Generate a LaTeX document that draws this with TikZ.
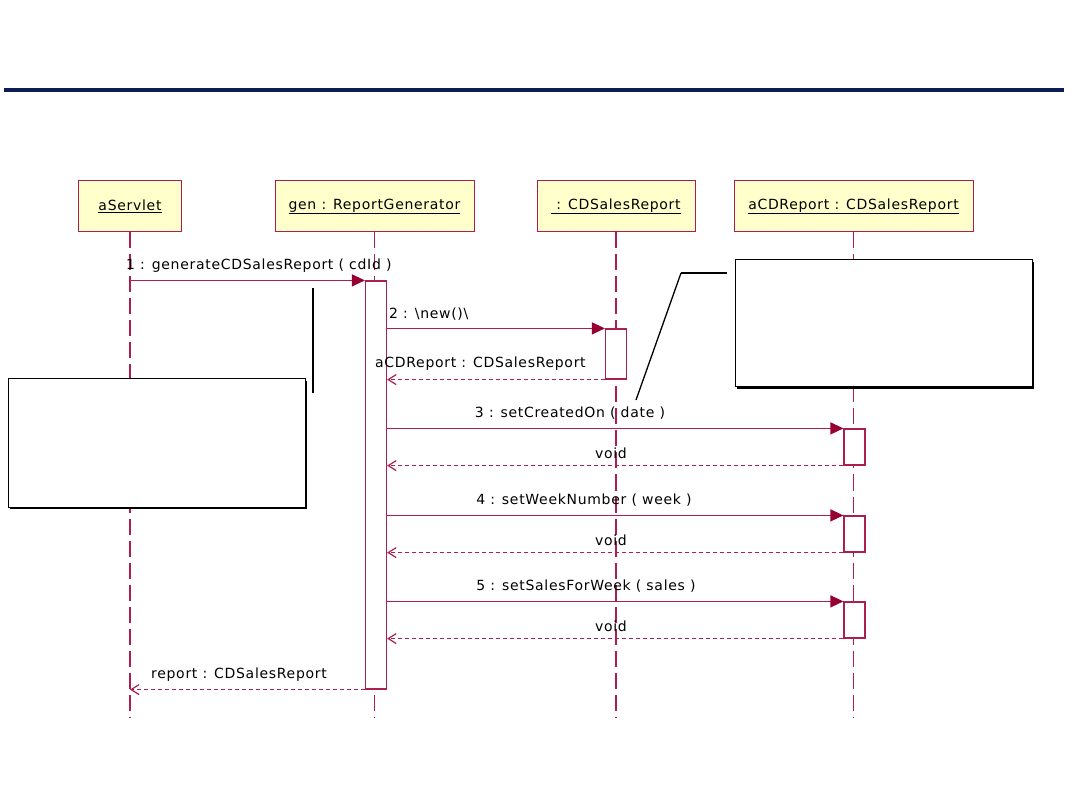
\documentclass[tikz,border=0pt]{standalone}
\usepackage{fontspec}
\setmainfont[LetterSpace=5]{DejaVu Sans}
\usetikzlibrary{arrows.meta}

\definecolor{umlred}{RGB}{170,30,80}
\definecolor{umltip}{RGB}{150,0,50}
\definecolor{umlfill}{RGB}{255,255,204}
\definecolor{barblue}{RGB}{12,30,84}

\tikzset{
  head/.style={draw=umlred, line width=1pt, fill=umlfill, minimum height=51pt, inner sep=0pt},
  life/.style={umlred, line width=1.2pt, dash pattern=on 16pt off 6pt},
  act/.style={draw=umlred, line width=1.2pt, fill=white, inner sep=0pt, minimum width=21pt},
  call/.style={umlred, line width=1.3pt, -{Triangle[length=13pt, width=12pt, color=umltip, fill=umltip]}},
  reply/.style={umlred, line width=1.2pt, dash pattern=on 4pt off 3pt, -{Straight Barb[length=8pt, width=10pt]}},
  note/.style={draw=black, line width=1pt, fill=white},
  msg/.style={inner sep=0pt, text=black}
}

\begin{document}
\begin{tikzpicture}[x=1pt, y=-1pt, font=\fontsize{14}{16}\selectfont]
  \useasboundingbox (0,0) rectangle (1080,810);

  % Title bar
  \fill[barblue] (4,88) rectangle (1064,92);

  % Lifelines
  \node[head, minimum width=103pt] (servlet) at (130,206.5) {\underline{aServlet}};
  \node[head, minimum width=199pt] (gen) at (374.5,206.5) {\underline{gen : ReportGenerator}};
  \node[head, minimum width=158pt] (sales) at (616,206.5) {\underline{\ : CDSalesReport}};
  \node[head, minimum width=239pt] (cdrep) at (853.5,206.5) {\underline{aCDReport : CDSalesReport}};

  \foreach \n in {servlet, gen, sales, cdrep} {
    \draw[life] (\n.south) -- (\n.south |- 0,718);
  }

  % Activations
  \node[act, minimum height=408pt] (genact) at (376,485) {};
  \node[act, minimum height=50pt] (salesact) at (616,354) {};
  \node[act, minimum height=36pt] (cd1) at (854.5,447) {};
  \node[act, minimum height=36pt] (cd2) at (854.5,534) {};
  \node[act, minimum height=36pt] (cd3) at (854.5,620) {};

  % Messages
  \draw[call] (servlet |- genact.north) -- (genact.north west);
  \node[msg, anchor=west] (m1) at (126,266) {1 : generateCDSalesReport ( cdId )};

  \draw[call] (genact.east |- salesact.north) -- (salesact.north west);
  \node[msg, anchor=west] (m2) at (389,314) {2 : \textbackslash new()\textbackslash};
  \draw[reply] (salesact.south west) -- (genact.east |- salesact.south);
  \node[msg, anchor=west] (r2) at (375,364) {aCDReport : CDSalesReport};

  \foreach \a/\txt/\x in {cd1/3 : setCreatedOn ( date )/570, cd2/4 : setWeekNumber ( week )/584, cd3/5 : setSalesForWeek ( sales )/586} {
    \draw[call] (genact.east |- \a.north) -- (\a.north west);
    \draw[reply] (\a.south west) -- (genact.east |- \a.south);
    \node[msg, above=9pt] at (\x,0 |- \a.north) {\txt};
    \node[msg, above=7pt] at (611,0 |- \a.south) {void};
  }

  \draw[reply] (genact.south west) -- (servlet |- genact.south);
  \node[msg, anchor=west] (r5) at (151,675) {report : CDSalesReport};

  % Notes
  \fill[black] (10,381) rectangle (307,509);
  \draw[note] (8,379) rectangle (305,507);
  \coordinate (n1a) at (313,288);
  \coordinate (n1b) at (313,393);
  \draw[line width=2pt] (n1a) -- (n1b);

  \fill[black] (737,262) rectangle (1034,389);
  \draw[note] (735,260) rectangle (1032,387);
  \coordinate (n2a) at (636,400);
  \coordinate (n2b) at (681,273);
  \coordinate (n2c) at (727,273);
  \draw[line width=1.3pt] (n2a) -- (n2b);
  \draw[line width=2pt] (n2b) -- (n2c);
\end{tikzpicture}
\end{document}
